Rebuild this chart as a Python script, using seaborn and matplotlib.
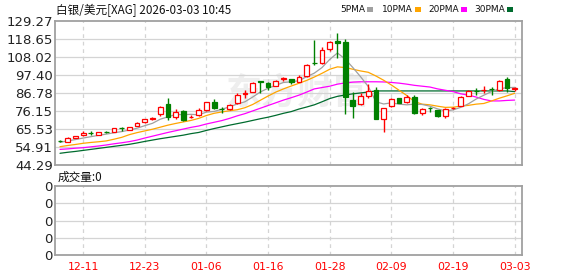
import numpy as np
import pandas as pd
import matplotlib
matplotlib.use('Agg')
import matplotlib.pyplot as plt
import seaborn as sns
from matplotlib.patches import Rectangle

# ---------------- data ----------------
dates = ['12-08', '12-09', '12-10', '12-11', '12-12', '12-15', '12-16', '12-17', '12-18', '12-19',
         '12-22', '12-23', '12-24', '12-26', '12-29', '12-30', '12-31', '01-02', '01-05', '01-06',
         '01-07', '01-08', '01-09', '01-12', '01-13', '01-14', '01-15', '01-16', '01-19', '01-20',
         '01-21', '01-22', '01-23', '01-26', '01-27', '01-28', '01-29', '01-30', '02-02', '02-03',
         '02-04', '02-05', '02-06', '02-09', '02-10', '02-11', '02-12', '02-13', '02-16', '02-17',
         '02-18', '02-19', '02-20', '02-23', '02-24', '02-25', '02-26', '02-27', '03-02', '03-03']
opens = [58.7, 58.0, 60.4, 61.8, 63.2, 62.0, 63.8, 64.0, 66.2, 65.0,
         67.5, 69.5, 71.6, 74.2, 80.1, 72.8, 76.2, 72.6, 73.8, 76.7,
         81.6, 77.4, 77.2, 80.7, 86.4, 87.5, 93.6, 92.5, 91.1, 95.3,
         95.0, 93.4, 96.8, 104.5, 104.3, 112.7, 117.5, 117.1, 82.6, 80.1,
         85.2, 88.4, 71.3, 79.3, 83.7, 81.3, 84.6, 75.2, 77.9, 76.7,
         73.4, 77.9, 79.1, 85.0, 88.2, 88.3, 89.3, 88.5, 94.9, 89.3]
highs = [59.3, 61.0, 61.6, 64.3, 64.4, 63.8, 64.2, 66.4, 66.8, 67.0,
         69.4, 71.6, 72.4, 79.0, 84.0, 77.5, 76.6, 73.6, 78.0, 81.6,
         83.5, 78.6, 80.5, 86.5, 88.4, 93.3, 93.9, 93.0, 94.4, 96.5,
         95.3, 97.5, 103.6, 118.0, 113.8, 117.6, 122.0, 118.6, 87.5, 87.0,
         91.9, 90.5, 78.0, 83.6, 84.0, 85.6, 85.6, 77.7, 78.6, 77.0,
         77.7, 78.6, 84.8, 88.6, 89.5, 91.0, 90.3, 94.4, 96.4, 90.5]
lows = [57.8, 57.7, 60.2, 61.6, 61.8, 61.9, 63.0, 63.8, 64.6, 64.8,
        67.3, 69.3, 71.0, 73.5, 70.8, 71.5, 70.4, 71.9, 73.5, 76.4,
        77.5, 75.0, 77.0, 80.4, 84.0, 87.2, 86.6, 88.8, 90.8, 94.0,
        91.8, 93.0, 96.5, 103.3, 103.8, 111.8, 107.2, 74.2, 71.8, 79.7,
        83.6, 71.3, 64.0, 78.7, 80.8, 80.8, 74.4, 73.8, 75.4, 72.4,
        71.8, 77.3, 78.9, 84.8, 85.6, 87.0, 85.8, 88.2, 87.2, 88.0]
closes = [58.4, 60.0, 61.2, 63.4, 63.0, 63.6, 63.6, 66.0, 66.0, 66.7,
          68.9, 71.3, 71.8, 78.7, 72.8, 75.7, 70.8, 72.9, 76.7, 81.3,
          78.1, 77.2, 79.7, 85.6, 86.7, 92.9, 93.4, 90.5, 94.0, 95.5,
          93.1, 96.2, 103.3, 104.3, 112.1, 117.1, 116.1, 84.6, 79.3, 85.0,
          88.0, 71.3, 77.7, 83.1, 81.1, 84.6, 74.8, 77.3, 77.7, 73.4,
          77.2, 78.1, 84.4, 88.0, 88.0, 88.5, 89.1, 93.9, 89.9, 89.5]
ma5 = [57.7, 58.5, 59.3, 60.2, 61.0, 61.8, 62.5, 63.3, 64.0, 64.9,
       66.0, 67.5, 68.9, 71.3, 72.7, 74.1, 74.0, 74.2, 73.9, 75.5,
       75.9, 77.2, 78.6, 80.3, 81.6, 84.4, 87.4, 89.6, 91.3, 93.0,
       93.4, 94.0, 96.4, 98.5, 101.8, 106.6, 110.4, 106.8, 101.8, 96.4,
       90.6, 81.6, 80.3, 81.0, 80.2, 79.8, 80.2, 80.0, 79.0, 77.4,
       76.2, 76.8, 78.3, 80.4, 83.2, 85.5, 87.6, 89.3, 89.9, 90.1]
ma10 = [55.1, 55.8, 56.4, 57.1, 57.6, 58.0, 58.5, 59.5, 60.6, 62.2,
        63.4, 64.4, 65.4, 66.6, 67.8, 68.8, 69.7, 70.6, 71.8, 73.5,
        74.8, 75.6, 76.3, 76.9, 78.1, 80.0, 82.5, 85.0, 87.3, 89.2,
        90.9, 92.5, 94.2, 96.2, 98.4, 100.8, 102.2, 101.8, 100.8, 99.8,
        99.0, 96.8, 94.3, 91.5, 88.4, 85.3, 81.7, 80.2, 79.8, 79.0,
        78.3, 78.4, 79.0, 79.5, 80.2, 80.6, 82.1, 83.7, 85.1, 86.6]
ma20 = [53.5, 53.8, 54.2, 54.5, 55.0, 55.5, 56.1, 56.8, 57.4, 58.1,
        59.0, 60.2, 61.3, 62.4, 63.5, 64.5, 65.5, 66.5, 67.3, 68.5,
        69.5, 70.5, 71.8, 73.3, 74.6, 76.2, 77.8, 79.4, 81.0, 82.6,
        84.0, 85.5, 87.3, 89.2, 90.0, 90.8, 92.0, 92.7, 93.2, 93.4,
        93.4, 93.4, 93.3, 93.0, 92.6, 92.0, 91.3, 90.8, 90.3, 89.2,
        88.4, 87.6, 86.3, 85.5, 84.4, 83.0, 82.1, 82.1, 82.4, 82.6]
ma30 = [51.2, 51.8, 52.3, 52.9, 53.5, 54.1, 54.7, 55.3, 55.9, 56.5,
        57.3, 58.2, 59.0, 59.8, 60.5, 61.2, 61.9, 62.8, 63.5, 64.7,
        65.8, 66.8, 67.8, 68.7, 69.6, 70.6, 71.6, 72.5, 73.6, 74.8,
        75.8, 77.3, 78.5, 79.8, 81.6, 83.5, 84.8, 85.6, 86.3, 86.8,
        87.4, 88.0, 88.0, 88.0, 88.0, 88.0, 88.0, 88.0, 88.0, 88.0,
        88.0, 88.0, 88.0, 88.0, 88.0, 88.0, 88.0, 88.0, 88.0, 87.6]
volume = [0] * 60

y_tick_labels = ['44.29', '54.91', '65.53', '76.15', '86.78', '97.40', '108.02', '118.65', '129.27']
x_tick_labels = ['12-11', '12-23', '01-06', '01-16', '01-28', '02-09', '02-19', '03-03']
ma_names = ['5PMA', '10PMA', '20PMA', '30PMA']
title_text = '白银/美元[XAG] 2026-03-03 10:45'
volume_text = '成交量:0'
watermark = '东方财富'

# ---------------- style ----------------
sns.set_style('white')
plt.rcParams['font.family'] = ['DejaVu Sans', 'Noto Sans CJK SC']
CJK = ['Noto Sans CJK SC', 'DejaVu Sans']

W, H = 578, 276
fig = plt.figure(figsize=(W / 100, H / 100), dpi=100)


def fx(px):
    return px / W


def fy(py):
    return 1 - py / H


RED = '#ff0000'
GREEN = '#008000'
MA_COLORS = ['#a0a0a0', '#ffa500', '#ff00ff', '#006b2e']
GRID = '#d4d4d4'
SPINE = '#a0a0a0'
TXT = '#222222'

ax = fig.add_axes([fx(55), fy(165), fx(522) - fx(55), fy(21) - fy(165)])
axv = fig.add_axes([fx(55), fy(255), fx(522) - fx(55), fy(186) - fy(255)])

n = len(dates)
idx = np.arange(n)
df = pd.DataFrame({'i': idx, 'open': opens, 'high': highs, 'low': lows, 'close': closes,
                   'ma5': ma5, 'ma10': ma10, 'ma20': ma20, 'ma30': ma30, 'vol': volume})
tick_pos = [dates.index(d) for d in x_tick_labels]
xlim = (-0.65, 59.95)
ymin, ymax = float(y_tick_labels[0]), float(y_tick_labels[-1])

# watermark
ax.text(0.52, 0.5, watermark, transform=ax.transAxes, ha='center', va='center',
        fontsize=26, fontweight='bold', color='#eeeeee', family=CJK, zorder=0)

# grid
for yv in np.linspace(ymin, ymax, len(y_tick_labels))[1:-1]:
    ax.axhline(yv, color=GRID, lw=0.9, zorder=1)
for p in tick_pos:
    ax.axvline(p, color=GRID, lw=0.9, ls=(0, (3, 3)), zorder=1)

# MA lines
for col, c in zip(['ma30', 'ma20', 'ma10', 'ma5'], MA_COLORS[::-1]):
    sns.lineplot(data=df, x='i', y=col, color=c, lw=0.9, ax=ax, zorder=3, legend=False)

# candles
w = 0.62
for _, r in df.iterrows():
    up = r['close'] >= r['open']
    c = RED if up else GREEN
    lo_b, hi_b = min(r['open'], r['close']), max(r['open'], r['close'])
    ax.vlines(r['i'], r['low'], lo_b, color=c, lw=1.0, zorder=4)
    ax.vlines(r['i'], hi_b, r['high'], color=c, lw=1.0, zorder=4)
    h = max(hi_b - lo_b, 0.15)
    ax.bar(r['i'], h, bottom=lo_b, width=w, color=('white' if up else GREEN),
           edgecolor=c, linewidth=0.9, zorder=5)

ax.set_xlim(*xlim)
ax.set_ylim(ymin, ymax)
ax.set_yticks(np.linspace(ymin, ymax, len(y_tick_labels)))
ax.set_yticklabels(y_tick_labels)
ax.set_xticks([])
ax.set_xlabel('')
ax.set_ylabel('')
ax.tick_params(axis='y', length=0, pad=1.5, labelsize=9.5, labelcolor=TXT)
for s in ax.spines.values():
    s.set_color(SPINE)
    s.set_linewidth(1.3)

# volume panel
for yv in [1, 2, 3]:
    axv.axhline(yv, color=GRID, lw=0.9, zorder=1)
for p in tick_pos:
    axv.axvline(p, color=GRID, lw=0.9, ls=(0, (3, 3)), zorder=1)
sns.lineplot(data=df, x='i', y='vol', color='none', ax=axv, legend=False)
axv.set_xlim(*xlim)
axv.set_ylim(0, 4)
axv.set_yticks([0, 1, 2, 3, 4])
axv.set_yticklabels(['0'] * 5)
axv.set_xticks(tick_pos)
axv.set_xticklabels(x_tick_labels)
axv.set_xlabel('')
axv.set_ylabel('')
axv.tick_params(axis='y', length=0, pad=1.5, labelsize=9.5, labelcolor=TXT)
axv.tick_params(axis='x', length=0, pad=5, labelsize=7.8, labelcolor=RED)
for s in axv.spines.values():
    s.set_color(SPINE)
    s.set_linewidth(1.3)

# header texts
fig.text(fx(56), fy(10), title_text, ha='left', va='center', fontsize=8.4, family=CJK, color='#111111')
fig.text(fx(58), fy(177), volume_text, ha='left', va='center', fontsize=8.4, family=CJK, color='#111111')

leg_x = [340, 382, 428, 474]
sq_x = [367, 415, 461, 507]
for name, c, lx, sx in zip(ma_names, MA_COLORS, leg_x, sq_x):
    fig.text(fx(lx), fy(10), name, ha='left', va='center', fontsize=6.5, color='#111111')
    fig.add_artist(Rectangle((fx(sx), fy(12)), fx(6), fy(7) - fy(12), transform=fig.transFigure,
                             color=c, lw=0))

fig.savefig('out.png', dpi=100)
